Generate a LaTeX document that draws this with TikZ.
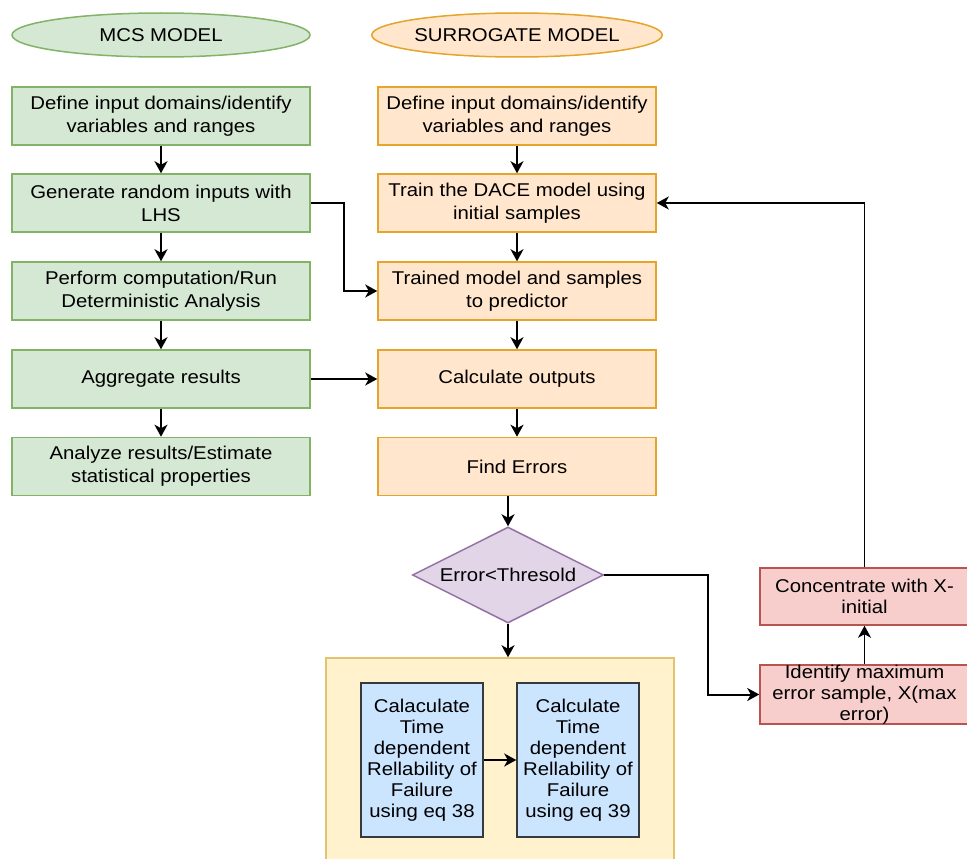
\documentclass[tikz,border=0pt]{standalone}
\usepackage{fontspec}
\setmainfont{Liberation Sans}[FakeStretch=1.1]
\usetikzlibrary{shapes.geometric,arrows.meta}
\definecolor{gfill}{HTML}{D5E8D4}
\definecolor{gline}{HTML}{82B366}
\definecolor{ofill}{HTML}{FFE6CC}
\definecolor{oline}{HTML}{E5A52A}
\definecolor{pfill}{HTML}{E1D5E7}
\definecolor{pline}{HTML}{9673A6}
\definecolor{rfill}{HTML}{F8CECC}
\definecolor{rline}{HTML}{B85450}
\definecolor{bfill}{HTML}{CCE5FF}
\definecolor{bline}{HTML}{36393D}
\definecolor{yfill}{HTML}{FFF2CC}
\definecolor{yline}{HTML}{E3C46E}
\tikzset{
  base/.style={rectangle, inner sep=0pt, align=center, line width=1.5pt,
    font=\fontsize{18.5}{23}\selectfont},
  gbox/.style={base, draw=gline, fill=gfill, minimum width=298pt, minimum height=58pt},
  obox/.style={base, draw=oline, fill=ofill, minimum width=278pt, minimum height=58pt},
  rbox/.style={base, draw=rline, fill=rfill, minimum width=209pt, minimum height=57pt,
    font=\fontsize{18.5}{21}\selectfont},
  bbox/.style={base, draw=bline, fill=bfill, minimum width=122pt, minimum height=154pt,
    font=\fontsize{18.5}{21}\selectfont},
  ovl/.style={ellipse, inner sep=0pt, line width=1.5pt, minimum height=44pt,
    font=\fontsize{18.5}{23}\selectfont},
  arr/.style={line width=2pt, -{Stealth[length=12pt,width=13pt,inset=3.5pt]}},
}
\begin{document}
\begin{tikzpicture}[x=1pt,y=-1pt]
\useasboundingbox (0,0) rectangle (967,859);
\clip (0,0) rectangle (967,859);
\fill[white] (0,0) rectangle (967,859);

% headers
\node[ovl, draw=gline, fill=gfill, minimum width=298pt] (mcs) at (161,35) {MCS MODEL};
\node[ovl, draw=oline, fill=ofill, minimum width=278pt] (sur) at (517,35) {SURROGATE MODEL};

% MCS column
\node[gbox] (g1) at (161,116) {Define input domains/identify\\variables and ranges};
\node[gbox] (g2) at (161,203) {Generate random inputs with\\LHS};
\node[gbox] (g3) at (161,291) {Perform computation/Run\\Deterministic Analysis};
\node[gbox] (g4) at (161,379) {Aggregate results};
\node[gbox] (g5) at (161,466.5) {Analyze results/Estimate\\statistical properties};

% surrogate column
\node[obox] (o1) at (517,116) {Define input domains/identify\\variables and ranges};
\node[obox] (o2) at (517,203) {Train the DACE model using\\initial samples};
\node[obox] (o3) at (517,291) {Trained model and samples\\to predictor};
\node[obox] (o4) at (517,379) {Calculate outputs};
\node[obox] (o5) at (517,466.5) {Find Errors};

% decision
\node[diamond, aspect=2, inner sep=0pt, draw=pline, fill=pfill, line width=1.5pt,
  minimum width=191pt, minimum height=96pt, font=\fontsize{18.5}{23}\selectfont]
  (dia) at (508,575) {Error<Thresold};

% container with two steps
\node[rectangle, draw=yline, fill=yfill, line width=1.5pt, minimum width=348pt,
  minimum height=222pt, inner sep=0pt] (cont) at (500,769) {};
\node[bbox] (b1) at (422,760) {Calaculate\\Time\\dependent\\Rellability of\\Failure\\using eq 38};
\node[bbox] (b2) at (578,760) {Calculate\\Time\\dependent\\Rellability of\\Failure\\using eq 39};

% red boxes
\node[rbox] (conc) at (864.5,596.5) {Concentrate with X-\\initial};
\node[rbox, minimum height=55pt] (iden) at (864.5,694.5) {Identify maximum\\error sample, X(max\\error)};

% arrows MCS
\draw[arr] (g1) -- (g2);
\draw[arr] (g2) -- (g3);
\draw[arr] (g3) -- (g4);
\draw[arr] (g4) -- (g5);
% arrows surrogate
\draw[arr] (o1) -- (o2);
\draw[arr] (o2) -- (o3);
\draw[arr] (o3) -- (o4);
\draw[arr] (o4) -- (o5);
\draw[arr] (dia.north |- o5.south) -- (dia.north);
\draw[arr] (dia.south) -- (dia.south |- cont.north);
\draw[arr] (b1) -- (b2);
% cross links
\draw[arr] (g2.east) -- ++(33,0) |- (o3.west);
\draw[arr] (g4.east) -- (o4.west);
\draw[arr] (dia.east) -- ++(104,0) |- (iden.west);
\draw[arr, line width=1.4pt] (iden.north) -- (conc.south);
\draw[arr, line width=1.4pt] (conc.north) |- (o2.east);
\end{tikzpicture}
\end{document}
